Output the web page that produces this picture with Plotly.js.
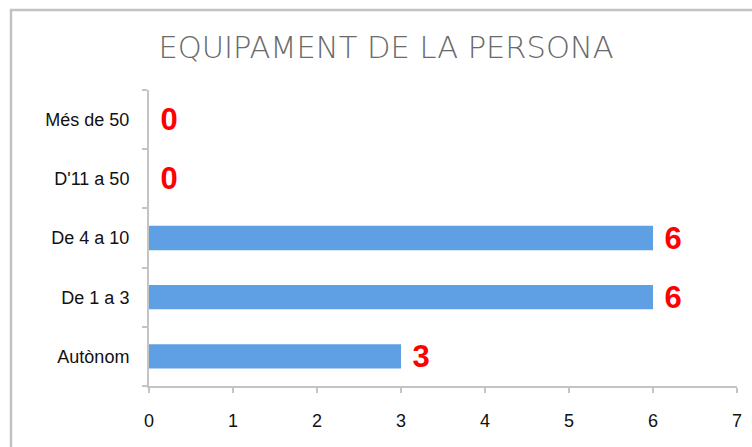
<!DOCTYPE html>
<html>
<head>
<meta charset="utf-8">
<script src="https://cdn.plot.ly/plotly-3.0.1.min.js"></script>
<style>html,body{margin:0;padding:0;background:#fff;}#chart{width:752px;height:447px;}</style>
</head>
<body>
<div id="chart"></div>
<script>
var categories = ["Autònom", "De 1 a 3", "De 4 a 10", "D'11 a 50", "Més de 50"];
var values = [3, 6, 6, 0, 0];
var xTicks = [0, 1, 2, 3, 4, 5, 6, 7];
var titleText = "EQUIPAMENT DE LA PERSONA";

var trace = {
  type: "bar",
  orientation: "h",
  y: categories,
  x: values,
  width: 0.41,
  marker: {color: "#5f9fe4", line: {width: 0}},
  text: values.map(function(v){ return "\u00a0" + v; }),
  textposition: "outside",
  constraintext: "none",
  cliponaxis: false,
  textfont: {family: "Liberation Sans, Arial, sans-serif", size: 31, color: "#ff0000", weight: "bold"},
  hoverinfo: "none"
};

var L = 149, R = 737, T = 90, B = 386;
var pw = R - L, ph = B - T;
function px2x(p){ return (p - L) / pw; }
function py2y(p){ return (B - p) / ph; }

var layout = {
  width: 752, height: 447,
  margin: {l: L, r: 752 - R, t: T, b: 447 - B, pad: 0},
  paper_bgcolor: "#ffffff",
  plot_bgcolor: "#ffffff",
  showlegend: false,
  title: {
    text: titleText,
    x: 386 / 752, xanchor: "center", xref: "container",
    y: 1 - 47/447, yanchor: "middle", yref: "container",
    font: {family: "DejaVu Sans ExtraLight, DejaVu Sans, sans-serif", size: 30.5, color: "#6a6a6a", weight: 200}
  },
  xaxis: {
    range: [0, 7],
    tickvals: xTicks,
    ticktext: xTicks.map(String),
    showgrid: false, zeroline: false,
    showline: true, linecolor: "#c4c4c4", linewidth: 2,
    ticks: "outside", ticklen: 5, tickcolor: "#c4c4c4", tickwidth: 2,
    ticklabelstandoff: 12,
    tickfont: {family: "Liberation Sans, Arial, sans-serif", size: 18, color: "#111"},
    fixedrange: true
  },
  yaxis: {
    type: "category",
    showgrid: false, zeroline: false,
    showline: true, linecolor: "#c4c4c4", linewidth: 2,
    ticks: "outside", tickson: "boundaries", ticklen: 5, tickcolor: "#c4c4c4", tickwidth: 2,
    ticklabelstandoff: 14,
    tickfont: {family: "Liberation Sans, Arial, sans-serif", size: 18, color: "#111"},
    fixedrange: true
  },
  shapes: [{
    type: "rect", xref: "paper", yref: "paper",
    x0: px2x(11), x1: px2x(800), y0: py2y(500), y1: py2y(10),
    line: {color: "#c2c2c2", width: 2.5}, fillcolor: "rgba(0,0,0,0)", layer: "below"
  }]
};

Plotly.newPlot("chart", [trace], layout, {displayModeBar: false, staticPlot: true});
</script>
</body>
</html>
